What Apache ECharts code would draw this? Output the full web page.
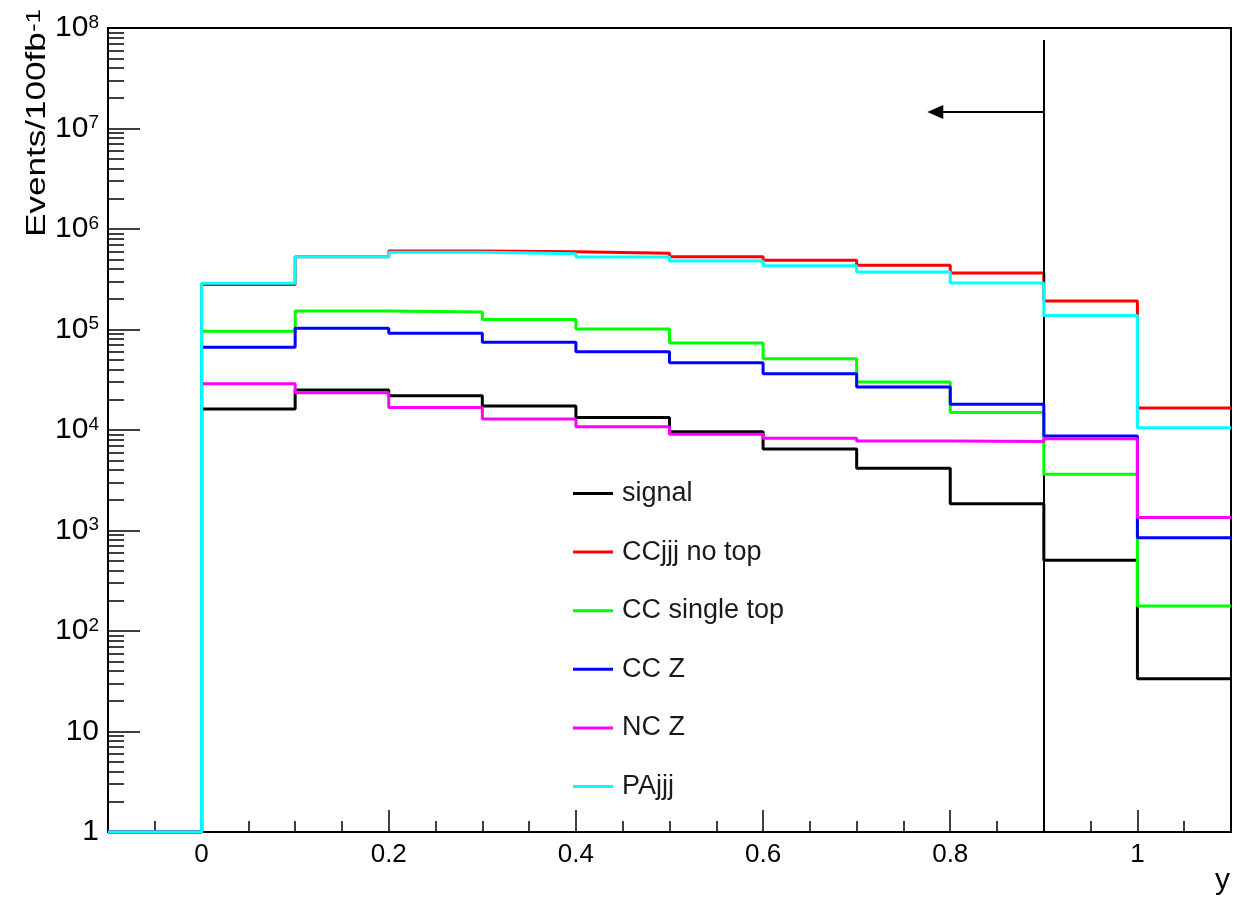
<!DOCTYPE html>
<html>
<head>
<meta charset="utf-8">
<script src="https://cdn.jsdelivr.net/npm/echarts@6/dist/echarts.min.js"></script>
<style>
html,body{margin:0;padding:0;background:#fff;}
#chart{width:1249px;height:900px;}
</style>
</head>
<body>
<div id="chart"></div>
<script>
// bin edges of the histogram (x = y variable)
var binEdges = [-0.1, 0.0, 0.1, 0.2, 0.3, 0.4, 0.5, 0.6, 0.7, 0.8, 0.9, 1.0, 1.1];
// events per bin (first bin is the empty underflow region, drawn at the axis floor 1)
var signal      = [1, 1.62e4, 2.50e4, 2.19e4, 1.73e4, 1.33e4, 9.6e3, 6.47e3, 4.16e3, 1.85e3, 505, 33.5];
var ccjjjNoTop  = [1, 2.80e5, 5.30e5, 6.05e5, 5.95e5, 5.73e5, 5.30e5, 4.88e5, 4.35e5, 3.65e5, 1.92e5, 1.66e4];
var ccSingleTop = [1, 9.6e4, 1.53e5, 1.49e5, 1.26e5, 1.01e5, 7.34e4, 5.12e4, 3.00e4, 1.49e4, 3.62e3, 177];
var ccZ         = [1, 6.65e4, 1.03e5, 9.2e4, 7.46e4, 6.01e4, 4.67e4, 3.63e4, 2.68e4, 1.80e4, 8.71e3, 848];
var ncZ         = [1, 2.89e4, 2.35e4, 1.67e4, 1.29e4, 1.08e4, 9.06e3, 8.27e3, 7.77e3, 7.70e3, 8.19e3, 1.35e3];
var paJjj       = [1, 2.88e5, 5.30e5, 5.87e5, 5.68e5, 5.26e5, 4.81e5, 4.31e5, 3.73e5, 2.90e5, 1.38e5, 1.05e4];

var seriesNames  = ['signal', 'CCjjj no top', 'CC single top', 'CC Z', 'NC Z', 'PAjjj'];
var seriesValues = [signal, ccjjjNoTop, ccSingleTop, ccZ, ncZ, paJjj];
var seriesColors = ['#000000', '#ff0000', '#00ff00', '#0000ff', '#ff00ff', '#00ffff'];

// axis ticks / labels
var xMajorTicks = [0, 0.2, 0.4, 0.6, 0.8, 1.0];
var xMinorTicks = [-0.05, 0.05, 0.1, 0.15, 0.25, 0.3, 0.35, 0.45, 0.5, 0.55, 0.65, 0.7, 0.75, 0.85, 0.9, 0.95, 1.05];
var yDecades = [1, 10, 100, 1e3, 1e4, 1e5, 1e6, 1e7, 1e8];
var yMinorMultipliers = [2, 3, 4, 5, 6, 7, 8, 9];

// cut line and arrow
var cutX = 0.9;
var cutTop = 7.6e7;
var arrowY = 1.46e7;
var arrowEnd = 0.784;

var FONT = 'Liberation Sans, Arial, Helvetica, sans-serif';

var yMinorTicks = [];
yDecades.slice(0, -1).forEach(function (d) {
  yMinorMultipliers.forEach(function (m) { yMinorTicks.push(m * d); });
});

function histData(vals) {
  return binEdges.map(function (x, i) {
    return [x, vals[Math.min(i, vals.length - 1)]];
  });
}

var series = seriesNames.map(function (name, i) {
  return {
    name: name,
    type: 'line',
    step: 'end',
    xAxisIndex: 0,
    yAxisIndex: 0,
    showSymbol: false,
    symbol: 'none',
    color: seriesColors[i],
    itemStyle: { color: seriesColors[i] },
    lineStyle: { color: seriesColors[i], width: 3 },
    data: histData(seriesValues[i]),
    z: 3 + i
  };
});

series.push({
  name: 'cut',
  type: 'line',
  xAxisIndex: 0,
  yAxisIndex: 0,
  data: [],
  z: 20,
  markLine: {
    silent: true,
    animation: false,
    symbol: ['none', 'none'],
    label: { show: false },
    lineStyle: { color: '#000', width: 2, type: 'solid' },
    emphasis: { disabled: true },
    data: [
      [{ coord: [cutX, 1] }, { coord: [cutX, cutTop] }],
      [{ coord: [cutX, arrowY], symbol: 'none' },
       { coord: [arrowEnd, arrowY], symbol: 'triangle', symbolSize: [14, 16] }]
    ]
  }
});

var chart = echarts.init(document.getElementById('chart'), null, { renderer: 'canvas' });

chart.setOption({
  animation: false,
  backgroundColor: '#ffffff',
  textStyle: { fontFamily: FONT },
  grid: {
    left: 108, right: 18, top: 28, bottom: 68,
    show: true, borderColor: '#000', borderWidth: 2, backgroundColor: 'transparent'
  },
  legend: {
    data: seriesNames,
    orient: 'vertical',
    left: 573,
    top: 480,
    padding: 0,
    icon: 'rect',
    itemWidth: 40,
    itemHeight: 3,
    itemGap: 31.6,
    textStyle: { fontFamily: FONT, fontSize: 27, lineHeight: 26, color: '#1a1a1a', padding: [0, 0, 0, 4] },
    selectedMode: false
  },
  xAxis: [
    {
      type: 'value', min: -0.1, max: 1.1, position: 'bottom',
      axisLine: { show: true, onZero: false, lineStyle: { color: '#000', width: 2 } },
      axisTick: { show: true, inside: true, length: 22, customValues: xMajorTicks, lineStyle: { color: '#000', width: 1.5 } },
      axisLabel: { show: true, customValues: xMajorTicks, margin: 10, fontSize: 26, color: '#000', fontFamily: FONT },
      splitLine: { show: false }
    },
    {
      type: 'value', min: -0.1, max: 1.1, position: 'bottom',
      axisLine: { show: false, onZero: false },
      axisTick: { show: true, inside: true, length: 11, customValues: xMinorTicks, lineStyle: { color: '#000', width: 1.5 } },
      axisLabel: { show: false },
      splitLine: { show: false }
    }
  ],
  yAxis: [
    {
      type: 'log', logBase: 10, min: 1, max: 1e8, position: 'left',
      axisLine: { show: true, onZero: false, lineStyle: { color: '#000', width: 2 } },
      axisTick: { show: true, inside: true, length: 32, customValues: yDecades, lineStyle: { color: '#000', width: 1.5 } },
      axisLabel: {
        show: true, customValues: yDecades, margin: 9, color: '#000',
        formatter: function (v) {
          var e = Math.round(Math.log(v) / Math.LN10);
          if (e === 0) return '{b|1}';
          if (e === 1) return '{b|10}';
          return '{b|10}{s|' + e + '}';
        },
        rich: {
          b: { fontSize: 30, lineHeight: 30, fontFamily: FONT, color: '#000' },
          s: { fontSize: 19, lineHeight: 20, verticalAlign: 'top', fontFamily: FONT, color: '#000' }
        }
      },
      splitLine: { show: false }
    },
    {
      type: 'log', logBase: 10, min: 1, max: 1e8, position: 'left',
      axisLine: { show: false, onZero: false },
      axisTick: { show: true, inside: true, length: 16, customValues: yMinorTicks, lineStyle: { color: '#000', width: 1.5 } },
      axisLabel: { show: false },
      splitLine: { show: false }
    }
  ],
  graphic: [
    {
      type: 'text',
      x: 38, y: 9,
      rotation: Math.PI / 2,
      scaleX: 1.3,
      style: {
        text: '{a|Events/100fb}{s|-1}',
        align: 'right',
        verticalAlign: 'middle',
        rich: {
          a: { fontSize: 27, lineHeight: 28, fontFamily: FONT, fill: '#000' },
          s: { fontSize: 20, lineHeight: 20, verticalAlign: 'top', fontFamily: FONT, fill: '#000' }
        }
      }
    },
    {
      type: 'text',
      x: 1230, y: 881,
      style: { text: 'y', fontSize: 30, fontFamily: FONT, fill: '#000', align: 'right', verticalAlign: 'middle' }
    }
  ],
  series: series
});
</script>
</body>
</html>
